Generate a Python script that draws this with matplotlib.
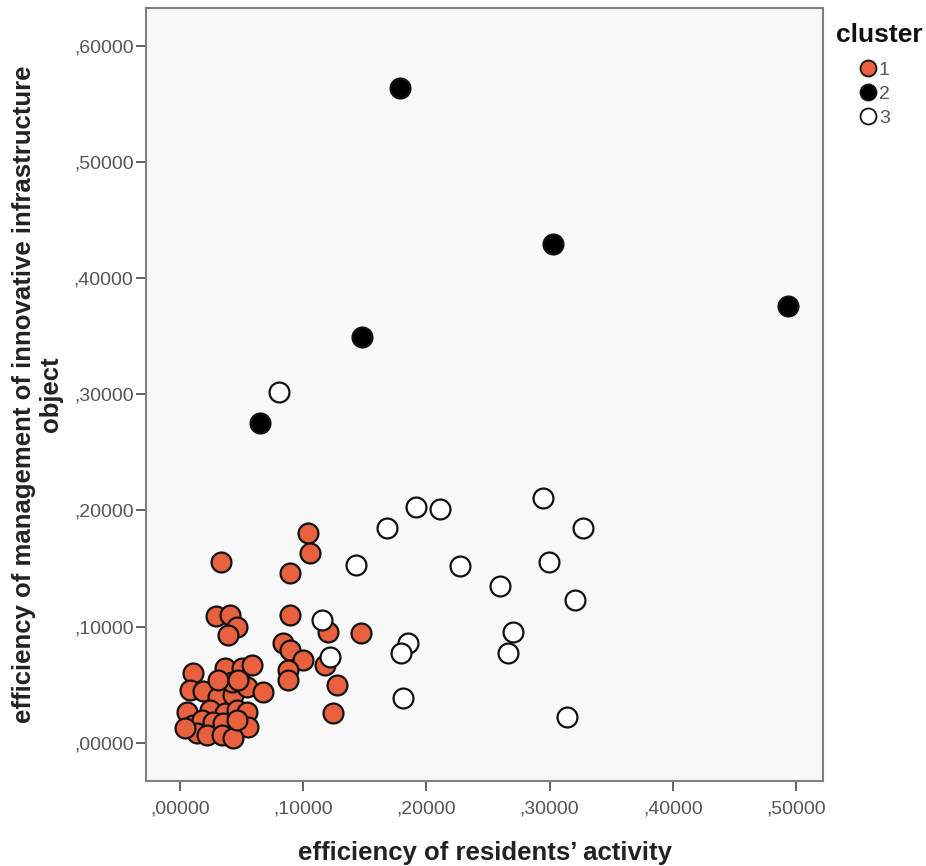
import matplotlib
matplotlib.use("Agg")
import matplotlib.pyplot as plt
from matplotlib.lines import Line2D
from matplotlib.ticker import FuncFormatter

plt.rcParams['font.family'] = ['Liberation Sans', 'DejaVu Sans']

# cluster 1 (red)
c1_x = [0.1041, 0.1055, 0.0893, 0.0893, 0.0839, 0.0893, 0.1001, 0.0879, 0.0879,
        0.1204, 0.1177, 0.1467, 0.1278, 0.1239, 0.0333, 0.0292, 0.0406, 0.0460,
        0.0392, 0.0108, 0.0365, 0.0501, 0.0582, 0.0081, 0.0189, 0.0311, 0.0433,
        0.0541, 0.0676, 0.0420, 0.0311, 0.0054, 0.0244, 0.0365, 0.0460, 0.0541,
        0.0108, 0.0176, 0.0270, 0.0351, 0.0554, 0.0136, 0.0217, 0.0338, 0.0433,
        0.0460, 0.0041, 0.0473]
c1_y = [0.1804, 0.1631, 0.1459, 0.1100, 0.0856, 0.0798, 0.0712, 0.0626, 0.0540,
        0.0956, 0.0669, 0.0942, 0.0500, 0.0258, 0.1554, 0.1091, 0.1100, 0.0999,
        0.0928, 0.0598, 0.0641, 0.0641, 0.0669, 0.0454, 0.0448, 0.0396, 0.0411,
        0.0482, 0.0439, 0.0525, 0.0540, 0.0267, 0.0282, 0.0253, 0.0282, 0.0267,
        0.0152, 0.0196, 0.0181, 0.0167, 0.0138, 0.0081, 0.0066, 0.0066, 0.0038,
        0.0196, 0.0127, 0.0540]

# cluster 2 (black)
c2_x = [0.1786, 0.3028, 0.4935, 0.1477, 0.0649]
c2_y = [0.5639, 0.4295, 0.3761, 0.3494, 0.2754]

# cluster 3 (white)
c3_x = [0.0804, 0.1678, 0.1916, 0.2110, 0.1429, 0.2273, 0.2949, 0.3274, 0.2998,
        0.2597, 0.3204, 0.2705, 0.2660, 0.1150, 0.1218, 0.1848, 0.1791, 0.1808,
        0.3141]
c3_y = [0.3021, 0.1847, 0.2028, 0.2010, 0.1531, 0.1522, 0.2105, 0.1847, 0.1559,
        0.1350, 0.1229, 0.0956, 0.0770, 0.1057, 0.0741, 0.0861, 0.0770, 0.0388,
        0.0224]

x_ticks = [0.0, 0.1, 0.2, 0.3, 0.4, 0.5]
y_ticks = [0.0, 0.1, 0.2, 0.3, 0.4, 0.5, 0.6]
cluster_labels = ['1', '2', '3']
colors = ['#e9603f', '#000000', '#ffffff']

fig = plt.figure(figsize=(9.26, 8.66), dpi=100)
ax = fig.add_axes([0.1577, 0.0982, 0.7311, 0.8926])
ax.set_facecolor('#f8f8f8')

ms = 205
for xs, ys, c in [(c1_x, c1_y, colors[0]), (c2_x, c2_y, colors[1]), (c3_x, c3_y, colors[2])]:
    ax.scatter(xs, ys, s=ms, c=c, edgecolors='#111111', linewidths=1.6, zorder=3)

ax.set_xlim(-0.0276, 0.522)
ax.set_ylim(-0.033, 0.6328)
ax.set_xticks(x_ticks)
ax.set_yticks(y_ticks)
fmt = FuncFormatter(lambda v, p: ('%.5f' % v).lstrip('0').replace('.', ','))
ax.xaxis.set_major_formatter(fmt)
ax.yaxis.set_major_formatter(fmt)

for sp in ax.spines.values():
    sp.set_color('#808080')
    sp.set_linewidth(1.5)
ax.tick_params(axis='both', colors='#555555', labelsize=14, length=7, width=1.3, direction='out')
ax.tick_params(axis='x', pad=7)
ax.tick_params(axis='y', pad=2)

ax.set_xlabel("efficiency of residents\u2019 activity", fontsize=18.5, fontweight='bold',
              color='#222222', labelpad=17)
ax.set_ylabel("efficiency of management of innovative infrastructure\nobject", fontsize=18.5,
              fontweight='bold', color='#222222', labelpad=8, linespacing=1.15)

fig.text(836 / 926, 1 - 35 / 866, 'cluster', fontsize=19, fontweight='bold',
         color='#111111', ha='left', va='center')

handles = [Line2D([], [], marker='o', linestyle='none', markersize=11.5,
                  markerfacecolor=c, markeredgecolor='#111111', markeredgewidth=1.3)
           for c in colors]
leg = fig.legend(handles, cluster_labels, loc='upper left',
                 bbox_to_anchor=(0.9227, 0.9296), frameon=False, handletextpad=-0.15,
                 labelspacing=0.33, fontsize=14, handlelength=1.4, borderaxespad=0.0,
                 borderpad=0.0)
for t in leg.get_texts():
    t.set_color('#555555')

fig.savefig('out.png', dpi=100, facecolor='white')
